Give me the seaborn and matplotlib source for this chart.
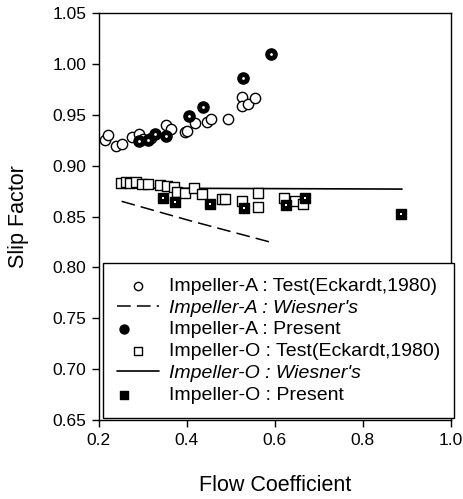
import matplotlib
matplotlib.use("Agg")
import matplotlib.pyplot as plt
import seaborn as sns
from matplotlib.legend_handler import HandlerTuple
from matplotlib.ticker import FormatStrFormatter

# ---- data ----
impA_test_x = [0.214, 0.222, 0.239, 0.252, 0.275, 0.292, 0.300, 0.318, 0.353, 0.364,
               0.395, 0.400, 0.419, 0.447, 0.455, 0.493, 0.525, 0.525, 0.540, 0.554]
impA_test_y = [0.925, 0.930, 0.919, 0.921, 0.928, 0.931, 0.926, 0.927, 0.940, 0.936,
               0.933, 0.934, 0.942, 0.943, 0.946, 0.946, 0.967, 0.959, 0.961, 0.966]

impA_wiesner_x = [0.252, 0.407, 0.589]
impA_wiesner_y = [0.865, 0.846, 0.825]

impA_present_x = [0.291, 0.313, 0.329, 0.352, 0.406, 0.438, 0.527, 0.592]
impA_present_y = [0.924, 0.925, 0.931, 0.929, 0.949, 0.958, 0.986, 1.010]

impO_test_x = [0.251, 0.261, 0.271, 0.284, 0.298, 0.313, 0.339, 0.355, 0.371, 0.377,
               0.396, 0.417, 0.434, 0.480, 0.487, 0.525, 0.563, 0.563, 0.620, 0.646, 0.663]
impO_test_y = [0.883, 0.884, 0.883, 0.884, 0.882, 0.882, 0.881, 0.880, 0.879, 0.874,
               0.873, 0.878, 0.872, 0.867, 0.867, 0.865, 0.873, 0.859, 0.868, 0.865, 0.862]

impO_wiesner_x = [0.252, 0.889]
impO_wiesner_y = [0.878, 0.877]

impO_present_x = [0.347, 0.373, 0.453, 0.529, 0.626, 0.669, 0.886]
impO_present_y = [0.868, 0.864, 0.862, 0.858, 0.861, 0.868, 0.853]

legend_labels = [
    "Impeller-A : Test(Eckardt,1980)",
    "Impeller-A : Wiesner's",
    "Impeller-A : Present",
    "Impeller-O : Test(Eckardt,1980)",
    "Impeller-O : Wiesner's",
    "Impeller-O : Present",
]
x_ticks = [0.2, 0.4, 0.6, 0.8, 1.0]
y_ticks = [0.65, 0.70, 0.75, 0.80, 0.85, 0.90, 0.95, 1.00, 1.05]

# ---- style ----
sns.set_theme(style="ticks")
plt.rcParams["font.family"] = ["Liberation Sans", "DejaVu Sans"]
plt.rcParams["axes.edgecolor"] = "black"
plt.rcParams["text.color"] = "black"
plt.rcParams["axes.labelcolor"] = "black"
plt.rcParams["xtick.color"] = "black"
plt.rcParams["ytick.color"] = "black"

fig = plt.figure(figsize=(4.64, 4.99), dpi=100)
ax = fig.add_axes([0.2127, 0.158, 0.759, 0.816])

# Impeller-A test: open circles
sns.scatterplot(x=impA_test_x, y=impA_test_y, marker="o", s=55, facecolor="white",
                edgecolor="black", linewidth=1.0, ax=ax, zorder=3, legend=False)
h_a_test = ax.collections[-1]

# Impeller-A Wiesner: dashed line
sns.lineplot(x=impA_wiesner_x, y=impA_wiesner_y, color="black", linewidth=1.1,
             linestyle=(0, (9, 4)), ax=ax, legend=False, sort=False)
h_a_w = ax.lines[-1]

# Impeller-A present: black circle with white dot
sns.scatterplot(x=impA_present_x, y=impA_present_y, marker="o", s=65, color="black",
                edgecolor="black", linewidth=1.0, ax=ax, zorder=4, legend=False)
h_a_p1 = ax.collections[-1]
sns.scatterplot(x=impA_present_x, y=impA_present_y, marker="o", s=4, color="white",
                linewidth=0, ax=ax, zorder=5, legend=False)
h_a_p2 = ax.collections[-1]

# Impeller-O test: open squares
sns.scatterplot(x=impO_test_x, y=impO_test_y, marker="s", s=55, facecolor="white",
                edgecolor="black", linewidth=1.0, ax=ax, zorder=3, legend=False)
h_o_test = ax.collections[-1]

# Impeller-O Wiesner: solid line
sns.lineplot(x=impO_wiesner_x, y=impO_wiesner_y, color="black", linewidth=1.2,
             ax=ax, legend=False, sort=False)
h_o_w = ax.lines[-1]

# Impeller-O present: black square with white dot
sns.scatterplot(x=impO_present_x, y=impO_present_y, marker="s", s=55, color="black",
                edgecolor="black", linewidth=1.0, ax=ax, zorder=4, legend=False)
h_o_p1 = ax.collections[-1]
sns.scatterplot(x=impO_present_x, y=impO_present_y, marker="s", s=4, color="white",
                linewidth=0, ax=ax, zorder=5, legend=False)
h_o_p2 = ax.collections[-1]

# ---- axes ----
ax.set_xlim(0.2, 1.0)
ax.set_ylim(0.65, 1.05)
ax.set_xticks(x_ticks)
ax.set_yticks(y_ticks)
ax.xaxis.set_major_formatter(FormatStrFormatter("%.1f"))
ax.yaxis.set_major_formatter(FormatStrFormatter("%.2f"))
ax.tick_params(direction="out", length=5, width=1, labelsize=12.5, pad=4)
for sp in ax.spines.values():
    sp.set_visible(True)
    sp.set_linewidth(1.0)
    sp.set_color("black")
ax.set_xlabel("Flow Coefficient", fontsize=15.5, labelpad=20)
ax.set_ylabel("Slip Factor", fontsize=15.5, labelpad=17)

handles = [h_a_test, h_a_w, (h_a_p1, h_a_p2), h_o_test, h_o_w, (h_o_p1, h_o_p2)]
leg = ax.legend(handles=handles, labels=legend_labels, loc="lower left",
                bbox_to_anchor=(0.012, 0.006), borderaxespad=0, fontsize=14,
                frameon=True, fancybox=False, framealpha=1, edgecolor="black",
                borderpad=0.7, labelspacing=0.22, handlelength=2.2,
                handletextpad=0.5, markerscale=0.8,
                handler_map={tuple: HandlerTuple(ndivide=None)})
leg.get_frame().set_linewidth(1.0)
for i in (1, 4):
    leg.get_texts()[i].set_style("italic")

fig.savefig("out.png", dpi=100)
